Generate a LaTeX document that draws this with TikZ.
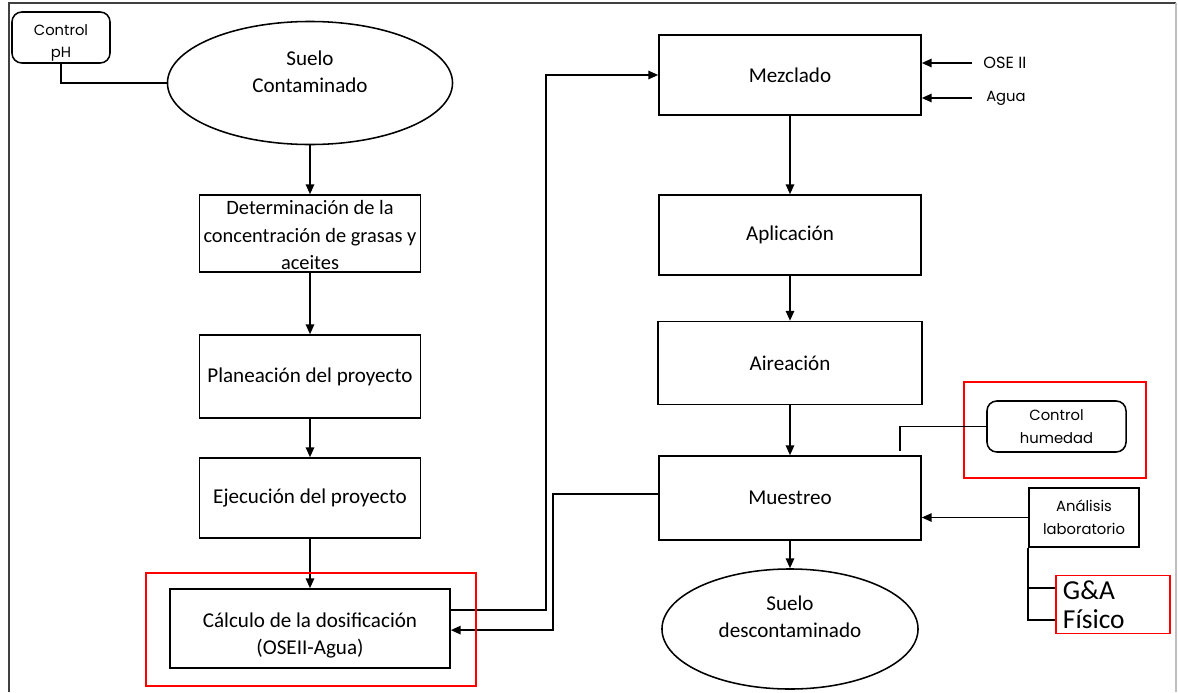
\documentclass[tikz,border=0pt]{standalone}
\usepackage{fontspec}
\setmainfont{Carlito}
\newfontfamily\gothic{Poppins}
\usetikzlibrary{shapes.geometric,arrows.meta}

\tikzset{
  paso/.style={draw, line width=1.1pt, fill=white, align=center, inner sep=2pt,
    font=\fontsize{15}{19}\selectfont},
  suelo/.style={ellipse, draw, line width=1.1pt, fill=white, align=center, inner sep=0pt,
    font=\fontsize{15}{19}\selectfont},
  ctrl/.style={draw, rounded corners=7pt, line width=1.1pt, fill=white, align=center,
    font=\gothic\fontsize{10.5}{16}\selectfont},
  etiq/.style={inner ysep=0pt, font=\gothic\fontsize{10.5}{13}\selectfont},
  flecha/.style={line width=1.1pt, -{Triangle[length=7pt,width=6pt]}},
  linea/.style={line width=1.1pt},
  marco/.style={draw=red, line width=1.1pt}
}

\begin{document}
\begin{tikzpicture}[x=0.025cm, y=-0.025cm]
  \useasboundingbox (0,0) rectangle (1178,692);
  % marco exterior
  \draw[line width=1.3pt, black!75] (9,692) -- (9,3) -- (1176,3);
  \draw[line width=0.8pt, black!25] (1176,3) -- (1176,692);
  \draw[marco] (964,382) rectangle (1146,478);

  % columna izquierda
  \node[ctrl, minimum width=2.45cm, minimum height=1.275cm] (ph) at (61,37.5) {Control\\pH\\[-21pt]};
  \node[suelo, minimum width=7.125cm, minimum height=3.075cm] (sc) at (310,83) {Suelo\\Contaminado\\[-3pt]};
  \node[paso, minimum width=5.525cm, minimum height=1.925cm, inner xsep=0pt,
    font=\fontsize{14.5}{19.5}\selectfont] (det) at (310,233.5)
    {Determinación de la\\concentración de grasas y\\aceites\\[-22pt]};
  \node[paso, minimum width=5.525cm, minimum height=2.075cm] (plan) at (310,376.5) {Planeación del proyecto};
  \node[paso, minimum width=5.525cm, minimum height=2cm] (ejec) at (310,498) {Ejecución del proyecto};
  \node[paso, minimum width=7cm, minimum height=1.975cm] (calc) at (310,628.5)
    {Cálculo de la dosificación\\(OSEII-Agua)\\[-26pt]};

  % columna derecha
  \node[paso, minimum width=6.55cm, minimum height=2cm] (mez) at (790,75) {Mezclado};
  \node[paso, minimum width=6.55cm, minimum height=2cm] (apl) at (790,235) {Aplicación};
  \node[paso, minimum width=6.6cm, minimum height=2.075cm] (aire) at (790,363) {Aireación};
  \node[paso, minimum width=6.55cm, minimum height=2.1cm] (muest) at (790,498) {Muestreo};
  \node[suelo, minimum width=6.4cm, minimum height=3cm] (sd) at (790,629) {Suelo\\descontaminado\\[-1pt]};

  % entradas y controles
  \node[etiq, anchor=west, inner xsep=0.28cm, font=\gothic\fontsize{11.5}{13}\selectfont] (ose) at (972,63) {OSE II};
  \node[etiq, anchor=west, inner xsep=0.35cm] (agua) at (972,98) {Agua};
  \node[ctrl, minimum width=3.475cm, minimum height=1.275cm] (ch) at (1056.5,426.5) {Control\\humedad};
  \node[paso, minimum width=2.75cm, minimum height=1.475cm, font=\gothic\fontsize{10.5}{16}\selectfont]
    (an) at (1084,517.5) {Análisis\\laboratorio};
  \node[draw=red, line width=1.1pt, fill=white, align=left, text width=2.5cm, inner xsep=0.175cm,
    minimum height=1.375cm, font=\fontsize{19.5}{21}\selectfont] (ga) at (1113,604.5) {G\&A\\Físico};

  % conectores
  \draw[linea] (ph.south) |- (sc.west);
  \foreach \a/\b in {sc/det, det/plan, plan/ejec, ejec/calc, mez/apl, apl/aire, aire/muest, muest/sd}
    \draw[flecha] (\a.south) -- (\b.north);
  \draw[flecha] ([yshift=0.46cm]calc.east) -- ++(2.375cm,0) |- (mez.west);
  \draw[flecha] ([yshift=0.1cm]muest.west) -- ++(-2.625cm,0) |- ([yshift=-0.04cm]calc.east);
  \draw[flecha] (ose.west) -- (ose.west -| mez.east);
  \draw[flecha] (agua.west) -- (agua.west -| mez.east);
  \draw[linea] (ch.west) -| ([xshift=2.75cm,yshift=0.1cm]muest.north);
  \draw[flecha] (an.west) -- (an.west -| muest.east);
  \draw[linea] (an.south west) |- ([yshift=-0.39cm]ga.west);
  \draw[linea] ([yshift=0.41cm]ga.west -| an.south west) -- ([yshift=0.41cm]ga.west);

  \draw[marco] (146,573) rectangle (476,686);
\end{tikzpicture}
\end{document}
